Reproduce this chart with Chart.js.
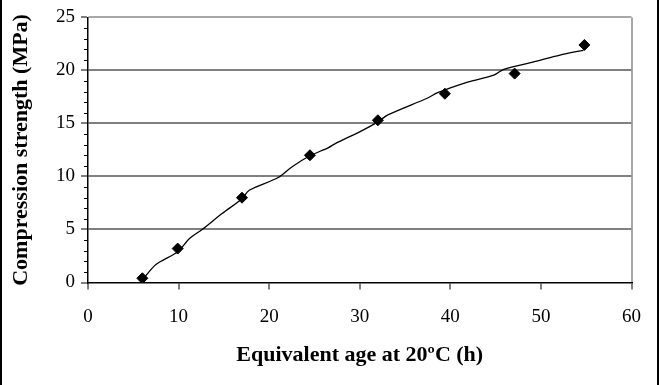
<!DOCTYPE html>
<html>
<head>
<meta charset="utf-8">
<script src="https://cdn.jsdelivr.net/npm/chart.js@4"></script>
<style>
  body { margin: 0; background: #fff; }
  #frame { position: absolute; left: 0; top: 0; width: 655px; height: 385px;
    border-left: 2px solid #000; border-right: 2px solid #000; }
</style>
</head>
<body>
<div id="frame"><canvas id="strength-chart"></canvas></div>
<script>
// Measured points: equivalent age at 20ºC (h) and compression strength (MPa)
const ages = [6, 9.9, 17, 24.5, 32, 39.4, 47.1, 54.8];
const strengths = [0.4, 3.2, 8, 12, 15.3, 17.8, 19.7, 22.4];

// Fitted curve
const curveAges = [6.2, 7.5, 9.9, 11.2, 12.6, 14.8, 17, 17.8, 21, 22.5, 24.5, 26.5,
  27.3, 30.2, 32, 33.1, 37.5, 38.6, 41.9, 44.8, 45.9, 49.2, 52.1, 54.7];
const curveStrengths = [0.45, 1.7, 2.9, 4.15, 5, 6.5, 7.9, 8.7, 9.9, 10.9, 11.95, 12.7,
  13.1, 14.3, 15.15, 15.8, 17.4, 17.9, 18.9, 19.55, 20.1, 20.8, 21.45, 21.9];

// Axis ranges
const xMin = 0, xMax = 60, xStep = 10;
const yMin = 0, yMax = 25, yStep = 5;

const serif = "'Liberation Serif', 'DejaVu Serif', serif";

// Short minor ticks on the y axis (every 1 MPa)
const minorTicks = {
  id: 'minorTicks',
  afterDraw(chart) {
    const y = chart.scales.y, ctx = chart.ctx;
    ctx.save();
    ctx.strokeStyle = '#000';
    ctx.lineWidth = 1;
    for (let v = yMin; v <= yMax; v++) {
      if (v % yStep === 0) continue;
      const py = Math.round(y.getPixelForValue(v)) + 0.5;
      ctx.beginPath();
      ctx.moveTo(y.right - 4, py);
      ctx.lineTo(y.right, py);
      ctx.stroke();
    }
    ctx.restore();
  }
};

new Chart('strength-chart', {
  type: 'scatter',
  data: {
    datasets: [
      {
        label: 'Measured',
        data: ages.map((x, i) => ({ x: x, y: strengths[i] })),
        showLine: false,
        pointStyle: 'rectRot',
        pointRadius: 5.5,
        backgroundColor: '#000',
        borderColor: '#000'
      },
      {
        label: 'Fit',
        data: curveAges.map((x, i) => ({ x: x, y: curveStrengths[i] })),
        showLine: true,
        pointRadius: 0,
        borderColor: '#000',
        borderWidth: 1.3,
        tension: 0.3
      }
    ]
  },
  options: {
    responsive: true,
    maintainAspectRatio: false,
    animation: false,
    layout: { padding: { top: 17, right: 23, left: 0, bottom: 0 } },
    plugins: {
      legend: { display: false },
      tooltip: { enabled: false }
    },
    scales: {
      x: {
        type: 'linear',
        min: xMin,
        max: xMax,
        ticks: { stepSize: xStep, color: '#000', padding: 16, font: { family: serif, size: 19 } },
        grid: {
          color: ctx => ctx.tick.value === xMax ? '#a8a8a8' : 'rgba(0,0,0,0)',
          lineWidth: 2,
          tickColor: '#000',
          tickWidth: 1,
          tickLength: 7
        },
        border: { color: '#000', width: 1.5 },
        title: {
          display: true,
          text: 'Equivalent age at 20ºC (h)',
          color: '#000',
          font: { family: serif, size: 22, weight: 'bold' },
          padding: { top: 0, bottom: 16 }
        },
        afterFit: s => { s.height = 102.5; }
      },
      y: {
        min: yMin,
        max: yMax,
        ticks: { stepSize: yStep, color: '#000', padding: 6, font: { family: serif, size: 19 } },
        grid: {
          color: ctx => ctx.tick.value === yMax ? '#a8a8a8'
            : ctx.tick.value === yMin ? 'rgba(0,0,0,0)' : '#808080',
          lineWidth: 2,
          tickColor: '#000',
          tickWidth: 1,
          tickLength: 7
        },
        border: { color: '#000', width: 1.5 },
        title: {
          display: true,
          text: 'Compression strength (MPa)',
          color: '#000',
          font: { family: serif, size: 22, weight: 'bold' },
          padding: { top: 6, bottom: 0 }
        },
        afterFit: s => { s.width = 86; }
      }
    }
  },
  plugins: [minorTicks]
});
</script>
</body>
</html>
